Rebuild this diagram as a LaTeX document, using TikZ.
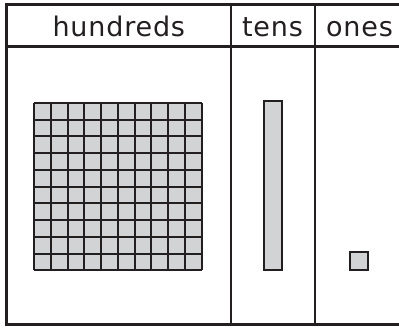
\documentclass[tikz,border=0pt]{standalone}
\usepackage{fontspec}
\setmainfont{DejaVu Sans}[LetterSpace=3]
\definecolor{ink}{HTML}{231F20}
\definecolor{block}{HTML}{D1D3D4}
\begin{document}
\begin{tikzpicture}[x=1pt,y=-1pt,
  frame/.style={draw=ink,line width=2.6pt},
  divider/.style={draw=ink,line width=2.3pt},
  gridline/.style={draw=ink,line width=2pt},
  unitbox/.style={draw=ink,fill=block,line width=2pt},
  heading/.style={anchor=base,inner sep=0pt,text=ink,font=\fontsize{27}{32}\selectfont}]
\useasboundingbox (0,0) rectangle (399,327);
\clip (0,0) rectangle (399,327);
\fill[white] (0,0) rectangle (399,327);
% table
\draw[frame] (420,4.5) -- (6.5,4.5) -- (6.5,324.5) -- (420,324.5);
\draw[divider] (6.5,46.5) -- (420,46.5);
\draw[divider] (230.7,4.5) -- (230.7,324.5);
\draw[divider] (315.3,4.5) -- (315.3,324.5);
% headings
\node[heading] (h) at (118.8,36.3) {hundreds};
\node[heading] (t) at (272.5,36.3) {tens};
\node[heading] (o) at (359.5,36.3) {ones};
% hundreds flat
\fill[block] (34,102.8) rectangle (201.5,270.3);
\foreach \i in {0,...,10}{
  \draw[gridline] ({34+16.75*\i},102.8) -- ({34+16.75*\i},270.3);
  \draw[gridline] (34,{102.8+16.75*\i}) -- (201.5,{102.8+16.75*\i});
}
% tens rod
\draw[unitbox] (264,100.8) rectangle (282,270.2);
% ones cube
\draw[unitbox] (349.8,252.2) rectangle (367.6,270.2);
\end{tikzpicture}
\end{document}
